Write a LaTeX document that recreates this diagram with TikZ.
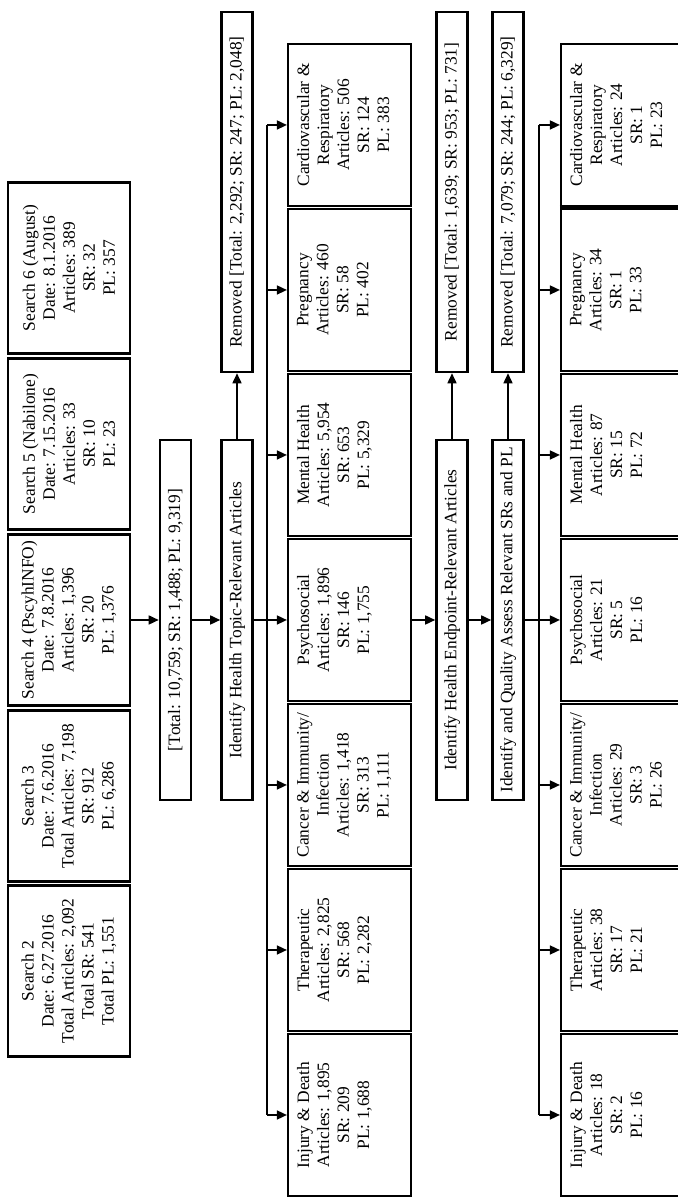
\documentclass[tikz,border=0pt]{standalone}
\usepackage{fontspec}
\setmainfont{Liberation Serif}
\usetikzlibrary{arrows.meta}
\newcommand{\cattext}[2]{\parbox[c][#1][t]{81pt}{\centering\vspace*{4.5pt}#2\par}}
\begin{document}
\begin{tikzpicture}[x=0.5pt,y=0.5pt,
  box/.style={draw, line width=1.1pt, inner sep=0pt, align=center, font=\fontsize{8.7}{10}\selectfont},
  barbox/.style={box, line width=1.3pt, minimum width=180pt, minimum height=15.5pt},
  srchbox/.style={box, minimum width=85.5pt, minimum height=61pt},
  catbox/.style={box, minimum width=81pt, minimum height=61.5pt},
  catboxb/.style={box, minimum width=81pt, minimum height=60.5pt},
  arr/.style={line width=0.8pt, -{Triangle[length=5pt,width=4.5pt]}},
  ln/.style={line width=0.8pt}]
\useasboundingbox (0,0) rectangle (678,1197);
\clip (0,0) rectangle (678,1197);
\begin{scope}[rotate=90, transform shape]
% searches
\node[srchbox] (s2) at (226,-69) {Search 2\\Date: 6.27.2016\\Total Articles: 2,092\\Total SR: 541\\Total PL: 1,551};
\node[srchbox] (s3) at (401,-69) {Search 3\\Date: 7.6.2016\\Total Articles: 7,198\\SR: 912\\PL: 6,286};
\node[srchbox] (s4) at (577,-69) {Search 4 (PscyhINFO)\\Date: 7.8.2016\\Articles: 1,396\\SR: 20\\PL: 1,376};
\node[srchbox] (s5) at (753,-69) {Search 5 (Nabilone)\\Date: 7.15.2016\\Articles: 33\\SR: 10\\PL: 23};
\node[srchbox] (s6) at (929,-69) {Search 6 (August)\\Date: 8.1.2016\\Articles: 389\\SR: 32\\PL: 357};
% bars
\node[barbox] (tot) at (577,-175.5) {[Total: 10,759; SR: 1,488; PL: 9,319]};
\node[barbox] (ident) at (577,-237) {Identify Health Topic-Relevant Articles};
\node[barbox] (rem1) at (1005,-237) {Removed [Total: 2,292; SR: 247; PL: 2,048]};
\node[barbox] (endp) at (577,-452) {Identify Health Endpoint-Relevant Articles};
\node[barbox] (qual) at (577,-508) {Identify and Quality Assess Relevant SRs and PL};
\node[barbox] (rem2) at (1005,-452) {Removed [Total: 1,639; SR: 953; PL: 731]};
\node[barbox] (rem3) at (1005,-508) {Removed [Total: 7,079; SR: 244; PL: 6,329]};
% category row 1
\node[catbox] (inj1) at (82,-349.5) {\cattext{61.5pt}{Injury \& Death\\Articles: 1,895\\SR: 209\\PL: 1,688}};
\node[catbox] (ther1) at (247,-349.5) {\cattext{61.5pt}{Therapeutic\\Articles: 2,825\\SR: 568\\PL: 2,282}};
\node[catbox] (canc1) at (412,-349.5) {\cattext{61.5pt}{Cancer \& Immunity/\\Infection\\Articles: 1,418\\SR: 313\\PL: 1,111}};
\node[catbox] (psy1) at (577,-349.5) {\cattext{61.5pt}{Psychosocial\\Articles: 1,896\\SR: 146\\PL: 1,755}};
\node[catbox] (ment1) at (742,-349.5) {\cattext{61.5pt}{Mental Health\\Articles: 5,954\\SR: 653\\PL: 5,329}};
\node[catbox] (preg1) at (907,-349.5) {\cattext{61.5pt}{Pregnancy\\Articles: 460\\SR: 58\\PL: 402}};
\node[catbox] (card1) at (1072,-349.5) {\cattext{61.5pt}{Cardiovascular \&\\Respiratory\\Articles: 506\\SR: 124\\PL: 383}};
% category row 2
\node[catboxb] (inj2) at (82,-621.5) {\cattext{60.5pt}{Injury \& Death\\Articles: 18\\SR: 2\\PL: 16}};
\node[catboxb] (ther2) at (247,-621.5) {\cattext{60.5pt}{Therapeutic\\Articles: 38\\SR: 17\\PL: 21}};
\node[catboxb] (canc2) at (412,-621.5) {\cattext{60.5pt}{Cancer \& Immunity/\\Infection\\Articles: 29\\SR: 3\\PL: 26}};
\node[catboxb] (psy2) at (577,-621.5) {\cattext{60.5pt}{Psychosocial\\Articles: 21\\SR: 5\\PL: 16}};
\node[catboxb] (ment2) at (742,-621.5) {\cattext{60.5pt}{Mental Health\\Articles: 87\\SR: 15\\PL: 72}};
\node[catboxb] (preg2) at (907,-621.5) {\cattext{60.5pt}{Pregnancy\\Articles: 34\\SR: 1\\PL: 33}};
\node[catboxb] (card2) at (1072,-621.5) {\cattext{60.5pt}{Cardiovascular \&\\Respiratory\\Articles: 24\\SR: 1\\PL: 23}};
\draw[line width=2.2pt] (card2.north west) -- (card2.south west);
% connectors
\draw[arr] (s4.south) -- (tot.north);
\draw[arr] (tot.south) -- (ident.north);
\draw[arr] (ident.east) -- (rem1.west);
\draw[arr] (ident.south) -- (psy1.north);
\coordinate (d1a) at (82,-267);
\coordinate (d1b) at (1072,-267);
\draw[ln] (d1a) -- (d1b);
\foreach \b in {inj1,ther1,canc1,ment1,preg1,card1}
  \draw[arr] (\b.north |- d1a) -- (\b.north);
\draw[arr] (psy1.south) -- (endp.north);
\draw[arr] (endp.south) -- (qual.north);
\draw[arr] (endp.east) -- (rem2.west);
\draw[arr] (qual.east) -- (rem3.west);
\draw[arr] (qual.south) -- (psy2.north);
\coordinate (d2a) at (82,-539);
\coordinate (d2b) at (1072,-539);
\draw[ln] (d2a) -- (d2b);
\foreach \b in {inj2,ther2,canc2,ment2,preg2,card2}
  \draw[arr] (\b.north |- d2a) -- (\b.north);
\end{scope}
\end{tikzpicture}
\end{document}
